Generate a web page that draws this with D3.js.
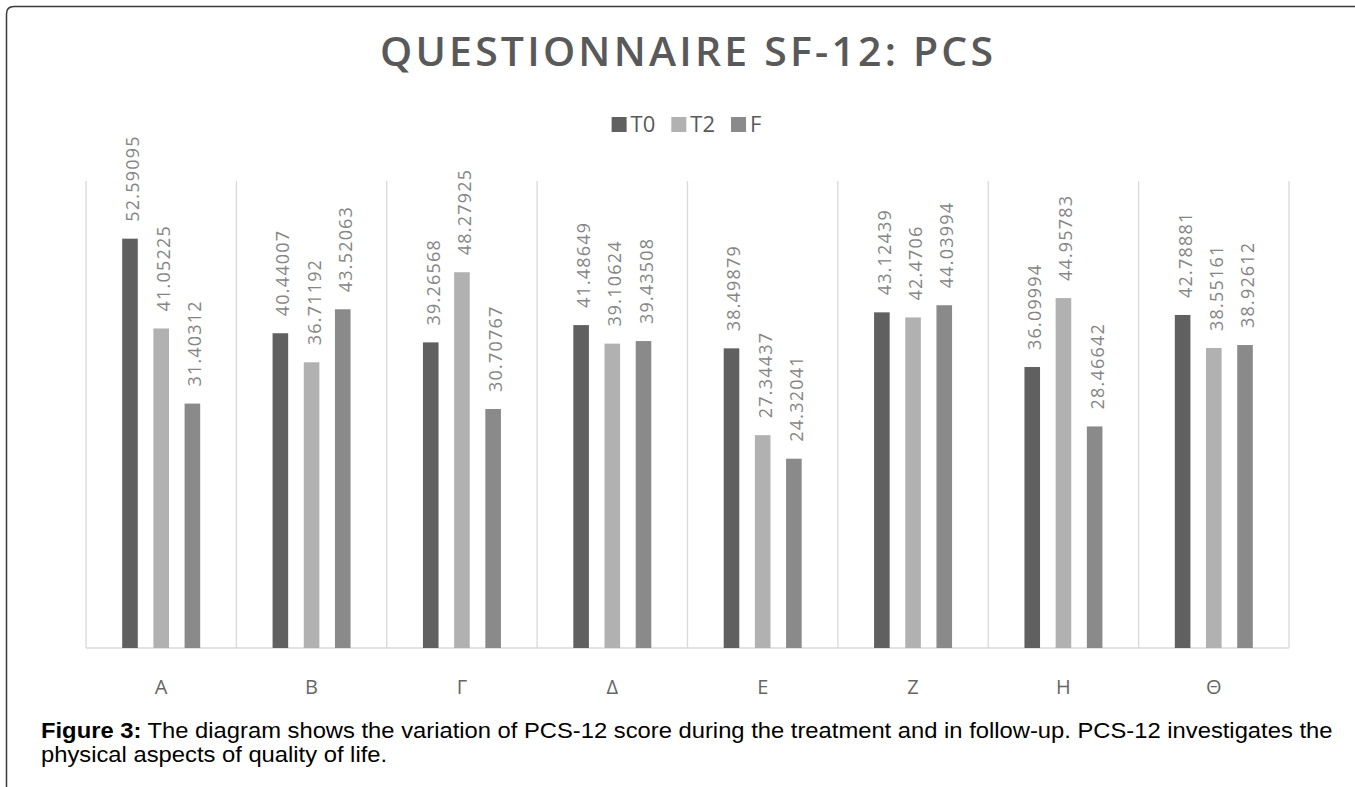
<!DOCTYPE html>
<html>
<head>
<meta charset="utf-8">
<script src="https://cdn.jsdelivr.net/npm/d3@7"></script>
<style>
  html, body { margin: 0; padding: 0; background: #fff; }
  svg { display: block; }
</style>
</head>
<body>
<svg id="chart" width="1355" height="787"></svg>
<script>
// SF-12 physical component scores per group, at T0, T2 and follow-up (F)
const categories = ["Α", "Β", "Γ", "Δ", "Ε", "Ζ", "Η", "Θ"];
const seriesNames = ["T0", "T2", "F"];
const valuesT0 = [52.59095, 40.44007, 39.26568, 41.48649, 38.49879, 43.12439, 36.09994, 42.78881];
const valuesT2 = [41.05225, 36.71192, 48.27925, 39.10624, 27.34437, 42.4706, 44.95783, 38.55161];
const valuesF  = [31.40312, 43.52063, 30.70767, 39.43508, 24.32041, 44.03994, 28.46642, 38.92612];
const seriesColors = ["#5f605f", "#b1b1b1", "#8a8a8a"];

const titleText = "QUESTIONNAIRE SF-12: PCS";
const captionBold = "Figure 3:";
const captionLine1 = " The diagram shows the variation of PCS-12 score during the treatment and in follow-up. PCS-12 investigates the";
const captionLine2 = "physical aspects of quality of life.";

const seriesValues = [valuesT0, valuesT2, valuesF];
const rows = categories.map((c, i) => ({
  cat: c,
  vals: seriesNames.map((s, k) => ({ key: s, value: seriesValues[k][i] }))
}));

const svg = d3.select("#chart");
const plot = { left: 86, right: 1289, top: 181, bottom: 648 };

const x = d3.scaleBand().domain(categories).range([plot.left, plot.right]).padding(0);
const xInner = d3.scaleBand().domain(seriesNames).range([0, x.bandwidth()])
  .paddingInner(0.5).paddingOuter(1.16);
const y = d3.scaleLinear().domain([0, 60]).range([plot.bottom, plot.top]);
const color = d3.scaleOrdinal().domain(seriesNames).range(seriesColors);

// outer frame with rounded top-left corner
svg.append("path")
  .attr("d", "M6.5,787 V14 Q6.5,6.5 14,6.5 H1355")
  .attr("fill", "none")
  .attr("stroke", "#3a3a3a")
  .attr("stroke-width", 1.5);

// title: spaced caps over a fixed width
const titleWidth = 613, titleCenter = 686.5, titleStretch = 1.05;
const titleG = svg.append("g")
  .attr("transform", `translate(${titleCenter - titleWidth / 2},66) scale(${titleStretch},1)`);
const title = titleG.append("text")
  .attr("x", 0).attr("y", 0)
  .attr("font-family", "'Open Sans', sans-serif")
  .attr("font-weight", 600)
  .attr("font-size", 39)
  .attr("fill", "#595959")
  .text(titleText);
{
  const natural = title.node().getComputedTextLength();
  const target = titleWidth / titleStretch;
  const ls = Math.max(0, (target - natural) / (titleText.length - 1));
  title.attr("letter-spacing", ls);
}

// legend
const legend = svg.append("g").attr("font-family", "'Open Sans', sans-serif").attr("font-size", 22);
let lx = 0;
seriesNames.forEach((s) => {
  const g = legend.append("g").attr("transform", `translate(${lx},0)`);
  g.append("rect").attr("x", 0).attr("y", 117).attr("width", 15).attr("height", 15).attr("fill", color(s));
  const t = g.append("text").attr("x", 19).attr("y", 132).attr("fill", "#595959").text(s);
  lx += 19 + t.node().getComputedTextLength() + 16;
});
legend.attr("transform", `translate(${686.5 - (lx - 16) / 2},0)`);

// category separators and baseline
const gridG = svg.append("g").attr("stroke", "#d9d9d9").attr("stroke-width", 1.3);
const bounds = categories.map(c => x(c)).concat([plot.right]);
gridG.selectAll("line.v").data(bounds).join("line")
  .attr("class", "v")
  .attr("x1", d => d).attr("x2", d => d)
  .attr("y1", plot.top).attr("y2", plot.bottom);
gridG.append("line")
  .attr("x1", plot.left).attr("x2", plot.right)
  .attr("y1", plot.bottom).attr("y2", plot.bottom);

// bars
const groups = svg.append("g").selectAll("g.cat").data(rows).join("g")
  .attr("class", "cat")
  .attr("transform", d => `translate(${x(d.cat)},0)`);

groups.selectAll("rect").data(d => d.vals).join("rect")
  .attr("x", d => xInner(d.key))
  .attr("width", xInner.bandwidth())
  .attr("y", d => y(d.value))
  .attr("height", d => y(0) - y(d.value))
  .attr("fill", d => color(d.key));

// value labels, rotated above each bar
groups.selectAll("text.val").data(d => d.vals).join("text")
  .attr("class", "val")
  .attr("transform", d => `translate(${xInner(d.key) + xInner.bandwidth() / 2 + 2},${y(d.value) - 17}) rotate(-90)`)
  .attr("dominant-baseline", "central")
  .attr("font-family", "'Open Sans', sans-serif")
  .attr("font-size", 18)
  .attr("letter-spacing", 1.2)
  .attr("fill", "#858585")
  .text(d => d.value);

// category axis labels
const xAxis = d3.axisBottom(x).tickSize(0).tickPadding(0);
const axG = svg.append("g").attr("transform", `translate(0,${plot.bottom})`).call(xAxis);
axG.select(".domain").remove();
axG.selectAll("text")
  .attr("y", 46)
  .attr("dy", null)
  .attr("font-family", "'Open Sans', sans-serif")
  .attr("font-size", 20)
  .attr("fill", "#666666");

// caption, stretched so the first line spans the frame
const capLeft = 41, capWidth = 1292;
const cap = svg.append("g")
  .attr("font-family", "'Liberation Sans', Arial, sans-serif")
  .attr("font-size", 21.5)
  .attr("fill", "#000");
const l1 = cap.append("text").attr("x", 0).attr("y", 738);
l1.append("tspan").attr("font-weight", "bold").text(captionBold);
l1.append("tspan").text(captionLine1);
cap.append("text").attr("x", 0).attr("y", 762).text(captionLine2);
{
  const w = l1.node().getComputedTextLength();
  cap.attr("transform", `translate(${capLeft},0) scale(${capWidth / w},1)`);
}
</script>
</body>
</html>
